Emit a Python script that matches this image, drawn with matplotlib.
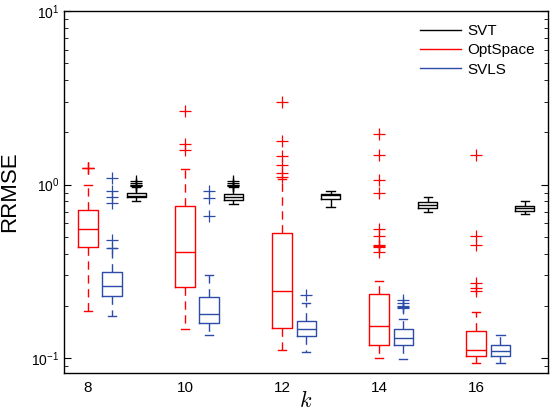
import numpy as np
import matplotlib.pyplot as plt
from matplotlib.lines import Line2D

plt.rcParams['font.family'] = ['Liberation Sans', 'DejaVu Sans']
plt.rcParams['mathtext.fontset'] = 'cm'

# rank values on the x axis
ks = [8, 10, 12, 14, 16]

# box statistics: [low whisker, q1, median, q3, high whisker]
optspace_stats = [
    [0.186, 0.440, 0.559, 0.718, 1.00],
    [0.147, 0.257, 0.412, 0.757, 1.235],
    [0.112, 0.149, 0.244, 0.530, 1.08],
    [0.100, 0.120, 0.153, 0.236, 0.277],
    [0.0936, 0.103, 0.111, 0.143, 0.185],
]
optspace_fliers = [
    [1.24, 1.25, 1.25],
    [1.59, 1.71, 2.66],
    [1.107, 1.167, 1.30, 1.455, 1.79, 3.01],
    [0.408, 0.440, 0.444, 0.447, 0.505, 0.559, 0.899, 1.07, 1.49, 1.96],
    [0.244, 0.253, 0.270, 0.448, 0.505, 1.49],
]

svls_stats = [
    [0.175, 0.227, 0.261, 0.316, 0.429],
    [0.137, 0.159, 0.180, 0.224, 0.303],
    [0.109, 0.134, 0.147, 0.165, 0.207],
    [0.0987, 0.119, 0.131, 0.147, 0.168],
    [0.0936, 0.103, 0.110, 0.120, 0.136],
]
svls_fliers = [
    [0.432, 0.483, 0.781, 0.853, 0.920, 1.097],
    [0.658, 0.842, 0.915],
    [0.230],
    [0.194, 0.197, 0.200, 0.207, 0.216],
    [],
]

svt_stats = [
    [0.802, 0.849, 0.861, 0.899, 0.970],
    [0.770, 0.820, 0.850, 0.888, 0.975],
    [0.748, 0.827, 0.868, 0.880, 0.924],
    [0.700, 0.738, 0.764, 0.792, 0.853],
    [0.681, 0.709, 0.734, 0.754, 0.809],
]
svt_fliers = [
    [0.985, 0.99, 1.0, 1.02, 1.045],
    [0.985, 0.99, 1.0, 1.02, 1.045],
    [],
    [],
    [],
]

series = [
    ('OptSpace', optspace_stats, optspace_fliers, '#ff0000', 0.0),
    ('SVLS', svls_stats, svls_fliers, '#2b4ca8', 0.5),
    ('SVT', svt_stats, svt_fliers, '#000000', 1.0),
]

fig = plt.figure(figsize=(5.5, 4.12), dpi=100)
ax = fig.add_axes([0.1164, 0.0947, 0.88, 0.8786])

for name, stats, fliers, col, off in series:
    bstats = []
    for s, f in zip(stats, fliers):
        bstats.append({'whislo': s[0], 'q1': s[1], 'med': s[2], 'q3': s[3],
                       'whishi': s[4], 'fliers': np.array(f)})
    ax.bxp(bstats, positions=[k + off for k in ks], widths=0.4, capwidths=0.17,
           manage_ticks=False,
           boxprops=dict(color=col, linewidth=1.0),
           medianprops=dict(color=col, linewidth=1.0),
           whiskerprops=dict(color=col, linewidth=1.0, linestyle=(0, (6, 4))),
           capprops=dict(color=col, linewidth=1.0),
           flierprops=dict(marker='+', markeredgecolor=col, markersize=8,
                           markeredgewidth=0.9, linestyle='none'))

ax.set_yscale('log')
ax.set_ylim(0.0823, 10)
ax.set_xlim(7.51, 17.48)
ax.set_xticks(ks)
ax.set_xticklabels([str(k) for k in ks], fontsize=11)
ax.tick_params(axis='x', length=0, pad=6)
ax.tick_params(axis='y', which='both', direction='in', right=True, labelsize=10)
ax.tick_params(axis='y', which='major', length=5)
ax.tick_params(axis='y', which='minor', length=3)
for sp in ax.spines.values():
    sp.set_linewidth(1.0)

ax.set_ylabel('RRMSE', fontsize=16, labelpad=8)
ax.set_xlabel('$k$', fontsize=16, labelpad=-3)

handles = [Line2D([], [], color='#000000', lw=1.0),
           Line2D([], [], color='#ff0000', lw=1.0),
           Line2D([], [], color='#2b4ca8', lw=1.0)]
ax.legend(handles, ['SVT', 'OptSpace', 'SVLS'], loc='upper right', frameon=False,
          fontsize=11, handlelength=2.7, handletextpad=0.4, labelspacing=0.35,
          borderaxespad=0.45)

fig.savefig('out.png', dpi=100)
